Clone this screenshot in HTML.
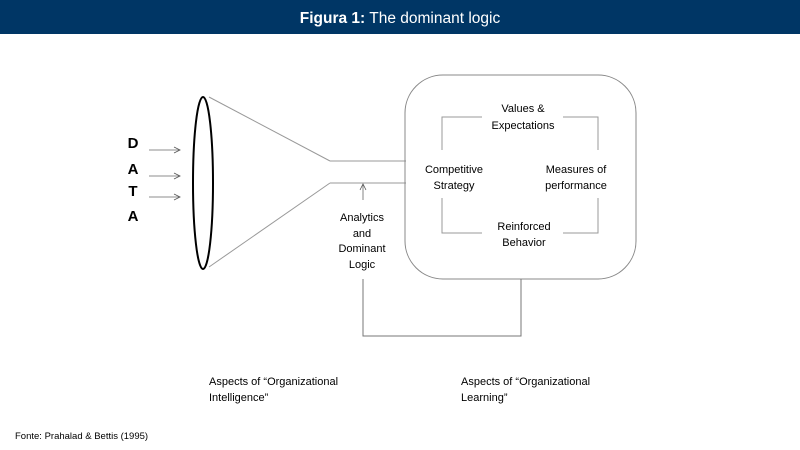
<!DOCTYPE html>
<html><head><meta charset="utf-8"><style>
html,body{margin:0;padding:0;background:#fff;width:800px;height:450px;overflow:hidden}
svg{display:block}
text{font-family:"Liberation Sans",sans-serif}
</style></head><body>
<svg width="800" height="450" viewBox="0 0 800 450" xmlns="http://www.w3.org/2000/svg">
<defs><marker id="a" markerWidth="8" markerHeight="8" refX="7" refY="4" orient="auto" markerUnits="userSpaceOnUse"><path d="M1,1 L7,4 L1,7" fill="none" stroke="#555" stroke-width="0.8"/></marker></defs>
<rect x="0" y="0" width="800" height="34" fill="#003665"/>
<text x="400" y="23" text-anchor="middle" fill="#fff" font-size="15.5"><tspan font-weight="bold">Figura 1:</tspan> The dominant logic</text>
<g font-size="15" font-weight="bold" fill="#000" text-anchor="middle">
<text x="133" y="148">D</text><text x="133" y="174">A</text><text x="133" y="196">T</text><text x="133" y="221">A</text>
</g>
<g stroke="#666" stroke-width="0.8" fill="none">
<line x1="149" y1="150" x2="180" y2="150" marker-end="url(#a)"/>
<line x1="149" y1="176" x2="180" y2="176" marker-end="url(#a)"/>
<line x1="149" y1="197" x2="180" y2="197" marker-end="url(#a)"/>
</g>
<g stroke="#999" stroke-width="1" fill="none">
<line x1="209" y1="97" x2="330" y2="161"/>
<line x1="209" y1="267" x2="330" y2="183"/>
<line x1="330" y1="161" x2="406" y2="161"/>
<line x1="330" y1="183" x2="406" y2="183"/>
<rect x="405" y="75" width="231" height="204" rx="38" ry="38" stroke="#888"/>
<polyline points="442,150 442,117 482,117"/>
<polyline points="563,117 598,117 598,150"/>
<polyline points="442,198 442,233 482,233"/>
<polyline points="563,233 598,233 598,198"/>
<polyline points="363,279 363,336 521,336 521,279" stroke="#777"/>
</g>
<line x1="363" y1="200" x2="363" y2="184" stroke="#666" stroke-width="0.8" marker-end="url(#a)"/>
<ellipse cx="203" cy="183" rx="10" ry="86" fill="none" stroke="#000" stroke-width="2"/>
<g font-size="11" fill="#000" text-anchor="middle">
<text x="523" y="112">Values &amp;</text><text x="523" y="129">Expectations</text>
<text x="454" y="173">Competitive</text><text x="454" y="189">Strategy</text>
<text x="576" y="173">Measures of</text><text x="576" y="189">performance</text>
<text x="524" y="230">Reinforced</text><text x="524" y="246">Behavior</text>
<text x="362" y="221">Analytics</text><text x="362" y="237">and</text><text x="362" y="252">Dominant</text><text x="362" y="268">Logic</text>
</g>
<g font-size="11" fill="#000">
<text x="209" y="385">Aspects of “Organizational</text><text x="209" y="401">Intelligence”</text>
<text x="461" y="385">Aspects of “Organizational</text><text x="461" y="401">Learning”</text>
<text x="15" y="439" font-size="9.5">Fonte: Prahalad &amp; Bettis (1995)</text>
</g>
</svg>
</body></html>
